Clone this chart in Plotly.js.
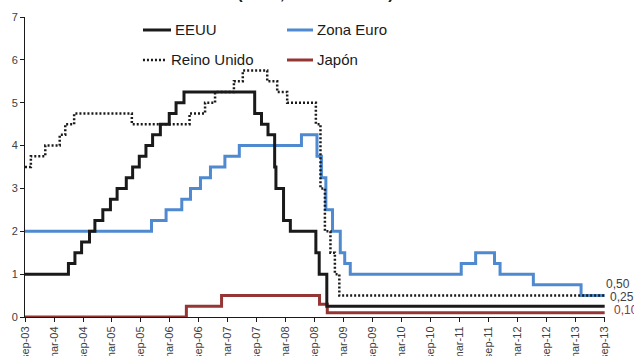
<!DOCTYPE html>
<html>
<head>
<meta charset="utf-8">
<script src="https://cdn.plot.ly/plotly-3.0.1.min.js"></script>
<style>
  html, body { margin: 0; padding: 0; background: #ffffff; }
  #chart { width: 634px; height: 356px; }
</style>
</head>
<body>
<div id="chart"></div>
<script>
// Official policy rates (%), step changes on the dates they took effect.
const eeuuDates = ['2003-09-30','2004-06-30','2004-08-10','2004-09-21','2004-11-10','2004-12-14',
  '2005-02-02','2005-03-22','2005-05-03','2005-06-30','2005-08-09','2005-09-20','2005-11-01',
  '2005-12-13','2006-01-31','2006-03-28','2006-05-10','2006-06-29','2007-09-18','2007-10-31',
  '2007-12-11','2008-01-22','2008-01-30','2008-03-18','2008-04-30','2008-10-08','2008-10-29',
  '2008-12-16','2013-10-04'];
const eeuuRates = [1.00,1.25,1.50,1.75,2.00,2.25,2.50,2.75,3.00,3.25,3.50,3.75,4.00,4.25,4.50,
  4.75,5.00,5.25,4.75,4.50,4.25,3.50,3.00,2.25,2.00,1.50,1.00,0.25,0.25];

const euroDates = ['2003-09-30','2005-12-06','2006-03-08','2006-06-15','2006-08-09','2006-10-11',
  '2006-12-13','2007-03-14','2007-06-13','2008-07-09','2008-10-15','2008-11-12','2008-12-10',
  '2009-01-21','2009-03-11','2009-04-08','2009-05-13','2011-04-13','2011-07-13','2011-11-09',
  '2011-12-14','2012-07-11','2013-05-08','2013-10-04'];
const euroRates = [2.00,2.25,2.50,2.75,3.00,3.25,3.50,3.75,4.00,4.25,3.75,3.25,2.50,2.00,1.50,
  1.25,1.00,1.25,1.50,1.25,1.00,0.75,0.50,0.50];

const ukDates = ['2003-09-30','2003-11-06','2004-02-05','2004-05-06','2004-06-10','2004-08-05',
  '2005-08-04','2006-08-03','2006-11-09','2007-01-11','2007-05-10','2007-07-05','2007-12-06',
  '2008-02-07','2008-04-10','2008-10-08','2008-11-06','2008-12-04','2009-01-08','2009-02-05',
  '2009-03-05','2013-10-04'];
const ukRates = [3.50,3.75,4.00,4.25,4.50,4.75,4.50,4.75,5.00,5.25,5.50,5.75,5.50,5.25,5.00,
  4.50,3.00,2.00,1.50,1.00,0.50,0.50];

const japanDates = ['2003-09-30','2006-07-14','2007-02-21','2008-10-31','2008-12-19','2013-10-04'];
const japanRates = [0.00,0.25,0.50,0.30,0.10,0.10];

const tickDates = ['2003-09-30','2004-03-31','2004-09-30','2005-03-31','2005-09-30','2006-03-31',
  '2006-09-30','2007-03-31','2007-09-30','2008-03-31','2008-09-30','2009-03-31','2009-09-30',
  '2010-03-31','2010-09-30','2011-03-31','2011-09-30','2012-03-31','2012-09-30','2013-03-31',
  '2013-09-30'];
const tickLabels = ['sep-03','mar-04','sep-04','mar-05','sep-05','mar-06','sep-06','mar-07',
  'sep-07','mar-08','sep-08','mar-09','sep-09','mar-10','sep-10','mar-11','sep-11','mar-12',
  'sep-12','mar-13','sep-13'];

const seriesNames = ['EEUU', 'Zona Euro', 'Reino Unido', 'Japón'];

// ---- styling ----
const FONT = 'Liberation Sans, Arial, sans-serif';
const styles = [
  {color: '#1a1a1a', width: 3,   dash: 'solid'},
  {color: '#4f8ad0', width: 3,   dash: 'solid'},
  {color: '#1a1a1a', width: 2.5, dash: '2px,2px'},
  {color: '#963634', width: 3,   dash: 'solid'}
];
const xs = [eeuuDates, euroDates, ukDates, japanDates];
const ys = [eeuuRates, euroRates, ukRates, japanRates];

// draw order: Japan first, then euro, UK, US on top
const order = [3, 1, 2, 0];
const traces = order.map(i => ({
  type: 'scatter', mode: 'lines', name: seriesNames[i],
  x: xs[i], y: ys[i],
  line: {shape: 'hv', color: styles[i].color, width: styles[i].width, dash: styles[i].dash},
  showlegend: false, hoverinfo: 'skip'
}));

const fmt = v => v.toFixed(2).replace('.', ',');
const last = a => a[a.length - 1];

// end-of-series value labels (UK, US, Japan), stacked to stay clear of each other
const endLabels = [
  {i: 2, color: '#404040', xshift: 0, yshift: 12},
  {i: 0, color: '#404040', xshift: 4, yshift: 9},
  {i: 3, color: '#963634', xshift: 8, yshift: 3}
].map(l => ({
  x: last(xs[l.i]), y: last(ys[l.i]), xref: 'x', yref: 'y',
  text: fmt(last(ys[l.i])), showarrow: false,
  xanchor: 'left', yanchor: 'middle', xshift: l.xshift, yshift: l.yshift,
  borderpad: 0,
  font: {family: FONT, size: 12, color: l.color}
}));

// legend in two columns
const legendPos = [
  {x0: 0.2034, x1: 0.2517, y: 0.9567},
  {x0: 0.4517, x1: 0.4966, y: 0.9567},
  {x0: 0.2034, x1: 0.2448, y: 0.8567},
  {x0: 0.4517, x1: 0.4966, y: 0.8567}
];
const legendShapes = legendPos.map((p, i) => ({
  type: 'line', xref: 'paper', yref: 'paper', x0: p.x0, x1: p.x1, y0: p.y, y1: p.y,
  line: {color: styles[i].color, width: styles[i].width, dash: styles[i].dash}
}));
const legendText = legendPos.map((p, i) => ({
  x: p.x1 + 0.003, y: p.y, xref: 'paper', yref: 'paper', text: seriesNames[i],
  showarrow: false, xanchor: 'left', yanchor: 'middle',
  font: {family: FONT, size: 15, color: '#1a1a1a'}
}));

const title = {
  x: 0.5, y: 1.045, xref: 'paper', yref: 'paper', xanchor: 'center', yanchor: 'bottom',
  text: '<b>Tipos de interés oficiales<br>(en %, datos diarios)</b>', showarrow: false,
  font: {family: FONT, size: 16, color: '#1a1a1a'}
};

const layout = {
  width: 634, height: 356,
  margin: {l: 25, r: 29, t: 17, b: 39, pad: 0},
  paper_bgcolor: '#ffffff', plot_bgcolor: '#ffffff',
  showlegend: false,
  xaxis: {
    type: 'date', range: ['2003-09-30', '2013-10-06'],
    tickmode: 'array', tickvals: tickDates, ticktext: tickLabels,
    tickangle: -90, ticks: 'outside', ticklen: 4, tickcolor: '#1a1a1a', tickwidth: 1,
    showline: true, linecolor: '#1a1a1a', linewidth: 1,
    showgrid: false, zeroline: false, automargin: false,
    tickfont: {family: FONT, size: 11, color: '#404040'}
  },
  yaxis: {
    range: [0, 7], tickvals: [0, 1, 2, 3, 4, 5, 6, 7],
    ticks: 'outside', ticklen: 4, tickcolor: '#1a1a1a', tickwidth: 1,
    showline: true, linecolor: '#1a1a1a', linewidth: 1,
    showgrid: false, zeroline: false, automargin: false,
    tickfont: {family: FONT, size: 11, color: '#404040'}
  },
  shapes: legendShapes,
  annotations: [title].concat(legendText, endLabels)
};

Plotly.newPlot('chart', traces, layout, {staticPlot: true, displayModeBar: false});
</script>
</body>
</html>
